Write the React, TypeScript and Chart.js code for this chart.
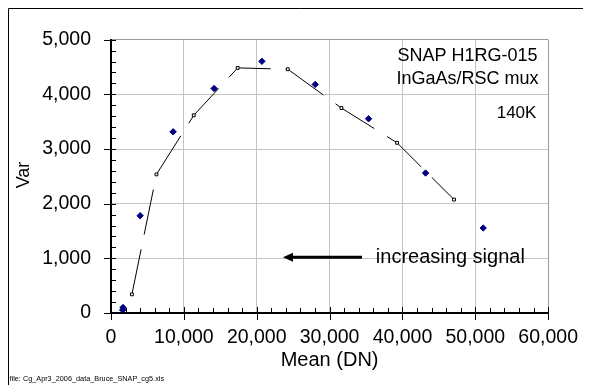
import React, { useEffect, useRef } from "react";
import { Chart, registerables } from "chart.js";

Chart.register(...registerables);

// Measured photon-transfer points (mean signal vs. variance)
const meanMeasured = [1600, 1650, 4000, 8530, 14150, 20710, 28030, 35350, 43170, 51080];
const varMeasured = [55, 100, 1780, 3315, 4107, 4605, 4182, 3553, 2560, 1555];

// Connected reference curve
const meanCurve = [2870, 6240, 11360, 17390, 24260, 31630, 39260, 47080];
const varCurve = [341, 2536, 3617, 4484, 4460, 3749, 3114, 2075];

// Axis tick values
const xTickValues = [0, 10000, 20000, 30000, 40000, 50000, 60000];
const yTickValues = [0, 1000, 2000, 3000, 4000, 5000];

const FONT = "'Liberation Sans', Arial, Helvetica, sans-serif";
const W = 583;
const H = 377;

const fmt = (v: number) => Number(v).toLocaleString("en-US");

// Minor/major tick marks, frame, captions and the signal arrow
const decorations = {
  id: "decorations",
  afterDraw(chart: any) {
    const { ctx, chartArea, scales } = chart;
    const x = scales.x;
    const y = scales.y;
    const left = chartArea.left;
    const bottom = chartArea.bottom;
    ctx.save();

    // tick marks
    ctx.strokeStyle = "#000";
    ctx.lineWidth = 1;
    ctx.beginPath();
    for (let v = 0; v <= 5000; v += 200) {
      const py = Math.round(y.getPixelForValue(v)) + 0.5;
      const major = v % 1000 === 0;
      ctx.moveTo(left - (major ? 7 : 0), py);
      ctx.lineTo(left + 5, py);
    }
    for (let v = 0; v <= 60000; v += 2000) {
      const px = Math.round(x.getPixelForValue(v)) + 0.5;
      const major = v % 10000 === 0;
      ctx.moveTo(px, bottom - (major ? 6 : 5));
      ctx.lineTo(px, bottom + (major ? 7 : 0));
    }
    ctx.stroke();

    // outer frame (left and top edges)
    ctx.beginPath();
    ctx.moveTo(0.5, H);
    ctx.lineTo(0.5, 0.5);
    ctx.lineTo(W, 0.5);
    ctx.stroke();

    // captions
    ctx.fillStyle = "#000";
    ctx.textBaseline = "alphabetic";
    ctx.font = `18px ${FONT}`;
    ctx.textAlign = "center";
    ctx.fillText("SNAP H1RG-015", x.getPixelForValue(48940), y.getPixelForValue(4604));
    ctx.fillText("InGaAs/RSC mux", x.getPixelForValue(48940), y.getPixelForValue(4193));
    ctx.font = `17px ${FONT}`;
    ctx.textAlign = "right";
    ctx.fillText("140K", x.getPixelForValue(58380), y.getPixelForValue(3575));

    // arrow pointing toward lower signal
    const ay = y.getPixelForValue(1020);
    const tipX = x.getPixelForValue(23600);
    const tailX = x.getPixelForValue(34450);
    ctx.lineWidth = 3;
    ctx.beginPath();
    ctx.moveTo(tailX, ay);
    ctx.lineTo(tipX + 8, ay);
    ctx.stroke();
    ctx.beginPath();
    ctx.moveTo(tipX, ay);
    ctx.lineTo(tipX + 10, ay - 4.5);
    ctx.lineTo(tipX + 10, ay + 4.5);
    ctx.closePath();
    ctx.fill();

    ctx.font = `20px ${FONT}`;
    ctx.textAlign = "left";
    ctx.fillText("increasing signal", x.getPixelForValue(36350), ay + 6);

    // axis titles
    ctx.font = `20px ${FONT}`;
    ctx.textAlign = "center";
    ctx.textBaseline = "middle";
    ctx.fillText("Mean (DN)", (chartArea.left + chartArea.right) / 2, 352);
    ctx.save();
    ctx.translate(16, 167);
    ctx.rotate(-Math.PI / 2);
    ctx.font = `18px ${FONT}`;
    ctx.fillText("Var", 0, 0);
    ctx.restore();

    // source file note
    ctx.font = `7.3px ${FONT}`;
    ctx.textAlign = "left";
    ctx.fillText("file: Cg_Apr3_2006_data_Bruce_SNAP_cg5.xls", 1.5, 371);

    ctx.restore();
  },
};

export default function App() {
  const canvasRef = useRef<HTMLCanvasElement | null>(null);

  useEffect(() => {
    document.documentElement.style.overflow = "hidden";
    const canvas = canvasRef.current;
    if (!canvas) return;

    const chart = new Chart(canvas, {
      type: "scatter",
      data: {
        datasets: [
          {
            label: "curve",
            data: meanCurve.map((m, i) => ({ x: m, y: varCurve[i] })),
            showLine: true,
            borderColor: "#000",
            borderWidth: 1,
            borderDash: [46, 15],
            tension: 0,
            pointStyle: "rect",
            pointRadius: 2,
            pointBackgroundColor: "#fff",
            pointBorderColor: "#000",
            pointBorderWidth: 1,
          },
          {
            label: "measured",
            data: meanMeasured.map((m, i) => ({ x: m, y: varMeasured[i] })),
            showLine: false,
            pointStyle: "rectRot",
            pointRadius: 3.2,
            pointBackgroundColor: "#000080",
            pointBorderColor: "#000080",
            pointBorderWidth: 1,
          },
        ],
      },
      options: {
        responsive: false,
        animation: false,
        devicePixelRatio: 1,
        layout: { padding: { left: 0, top: 16, right: 36, bottom: 0 } },
        plugins: {
          legend: { display: false },
          tooltip: { enabled: false },
        },
        scales: {
          x: {
            type: "linear",
            min: 0,
            max: 60000,
            afterBuildTicks: (s: any) => {
              s.ticks = xTickValues.map((value) => ({ value }));
            },
            afterFit: (s: any) => {
              s.height = 72;
            },
            grid: {
              color: (c: any) => (c.tick && c.tick.value === 60000 ? "#9a9a9a" : "#c4c4c4"),
              lineWidth: 1,
              drawTicks: false,
            },
            border: { display: true, color: "#000", width: 2 },
            ticks: {
              padding: 13,
              color: "#000",
              maxRotation: 0,
              autoSkip: false,
              font: { family: FONT, size: 19.5 },
              callback: (v: any) => fmt(v),
            },
          },
          y: {
            type: "linear",
            min: 0,
            max: 5000,
            afterBuildTicks: (s: any) => {
              s.ticks = yTickValues.map((value) => ({ value }));
            },
            afterFit: (s: any) => {
              s.width = 103;
            },
            grid: {
              color: (c: any) => (c.tick && c.tick.value === 5000 ? "#9a9a9a" : "#c4c4c4"),
              lineWidth: 1,
              drawTicks: false,
            },
            border: { display: true, color: "#000", width: 2 },
            ticks: {
              padding: 20,
              color: "#000",
              autoSkip: false,
              font: { family: FONT, size: 19.5 },
              callback: (v: any) => fmt(v),
            },
          },
        },
      },
      plugins: [decorations],
    });

    return () => chart.destroy();
  }, []);

  return (
    <div style={{ width: W, height: H }}>
      <canvas ref={canvasRef} width={W} height={H} style={{ display: "block", width: W, height: H }} />
    </div>
  );
}
